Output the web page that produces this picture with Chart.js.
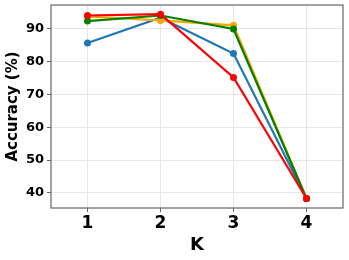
<!DOCTYPE html>
<html>
<head>
<meta charset="utf-8">
<script src="https://cdn.jsdelivr.net/npm/chart.js@4/dist/chart.umd.min.js"></script>
<style>
  html, body { margin: 0; padding: 0; background: #fff; }
  #wrap { width: 349px; height: 260px; }
</style>
</head>
<body>
<div id="wrap"><canvas id="chart" width="349" height="260"></canvas></div>
<script>
const K_VALUES = [1, 2, 3, 4];
const Y_TICKS = [40, 50, 60, 70, 80, 90];

const BLUE_SERIES = [85.7, 93.4, 82.5, 38.3];
const ORANGE_SERIES = [93.8, 92.6, 91.1, 38.3];
const GREEN_SERIES = [92.4, 94.1, 90.0, 38.3];
const RED_SERIES = [94.1, 94.5, 75.2, 38.3];

const BLUE_COLOR = "#1f77b4";
const ORANGE_COLOR = "#ffa500";
const GREEN_COLOR = "#008000";
const RED_COLOR = "#ff0000";

const FONT = "'DejaVu Sans', sans-serif";

const toPoints = (values) => K_VALUES.map((k, i) => ({ x: k, y: values[i] }));

const makeDataset = (label, values, color, order) => ({
    label: label,
    data: toPoints(values),
    borderColor: color,
    backgroundColor: color,
    borderWidth: 2.2,
    pointRadius: 3.5,
    pointHoverRadius: 3.5,
    pointBorderWidth: 0,
    tension: 0,
    order: order
});

// frame round the plot area, like a boxed axes
const framePlugin = {
    id: "frame",
    beforeDatasetsDraw(chart) {
        const { ctx, chartArea } = chart;
        ctx.save();
        ctx.strokeStyle = "#666";
        ctx.lineWidth = 1.2;
        ctx.strokeRect(chartArea.left, chartArea.top,
            chartArea.right - chartArea.left, chartArea.bottom - chartArea.top);
        ctx.restore();
    }
};

new Chart(document.getElementById("chart").getContext("2d"), {
    type: "line",
    data: {
        datasets: [
            makeDataset("Blue", BLUE_SERIES, BLUE_COLOR, 4),
            makeDataset("Orange", ORANGE_SERIES, ORANGE_COLOR, 3),
            makeDataset("Green", GREEN_SERIES, GREEN_COLOR, 2),
            makeDataset("Red", RED_SERIES, RED_COLOR, 1)
        ]
    },
    options: {
        responsive: false,
        animation: false,
        layout: { padding: { left: 4, top: 5, right: 6, bottom: 4 } },
        plugins: {
            legend: { display: false },
            tooltip: { enabled: false }
        },
        scales: {
            x: {
                type: "linear",
                min: 0.5,
                max: 4.5,
                afterBuildTicks: (scale) => { scale.ticks = K_VALUES.map(v => ({ value: v })); },
                afterFit: (scale) => {
                    scale.height = 48;
                    scale.paddingLeft = 0;
                    scale.paddingRight = 0;
                },
                grid: { color: "#e6e6e6", lineWidth: 1, tickLength: 4, tickColor: "#666" },
                border: { display: false },
                ticks: {
                    color: "#000",
                    padding: 1,
                    font: { family: FONT, size: 17, weight: "bold" }
                },
                title: {
                    display: true,
                    text: "K",
                    color: "#000",
                    padding: { top: 0, bottom: 0 },
                    font: { family: FONT, size: 18, weight: "bold" }
                }
            },
            y: {
                min: 35.4,
                max: 97.3,
                afterBuildTicks: (scale) => { scale.ticks = Y_TICKS.map(v => ({ value: v })); },
                afterFit: (scale) => {
                    scale.width = 47;
                    scale.paddingTop = 0;
                    scale.paddingBottom = 0;
                },
                grid: { color: "#e6e6e6", lineWidth: 1, tickLength: 4, tickColor: "#666" },
                border: { display: false },
                ticks: {
                    color: "#000",
                    padding: 3,
                    font: { family: FONT, size: 13, weight: "bold" }
                },
                title: {
                    display: true,
                    text: "Accuracy (%)",
                    color: "#000",
                    padding: { top: 0, bottom: 0 },
                    font: { family: FONT, size: 15, weight: "bold" }
                }
            }
        }
    },
    plugins: [framePlugin]
});
</script>
</body>
</html>
